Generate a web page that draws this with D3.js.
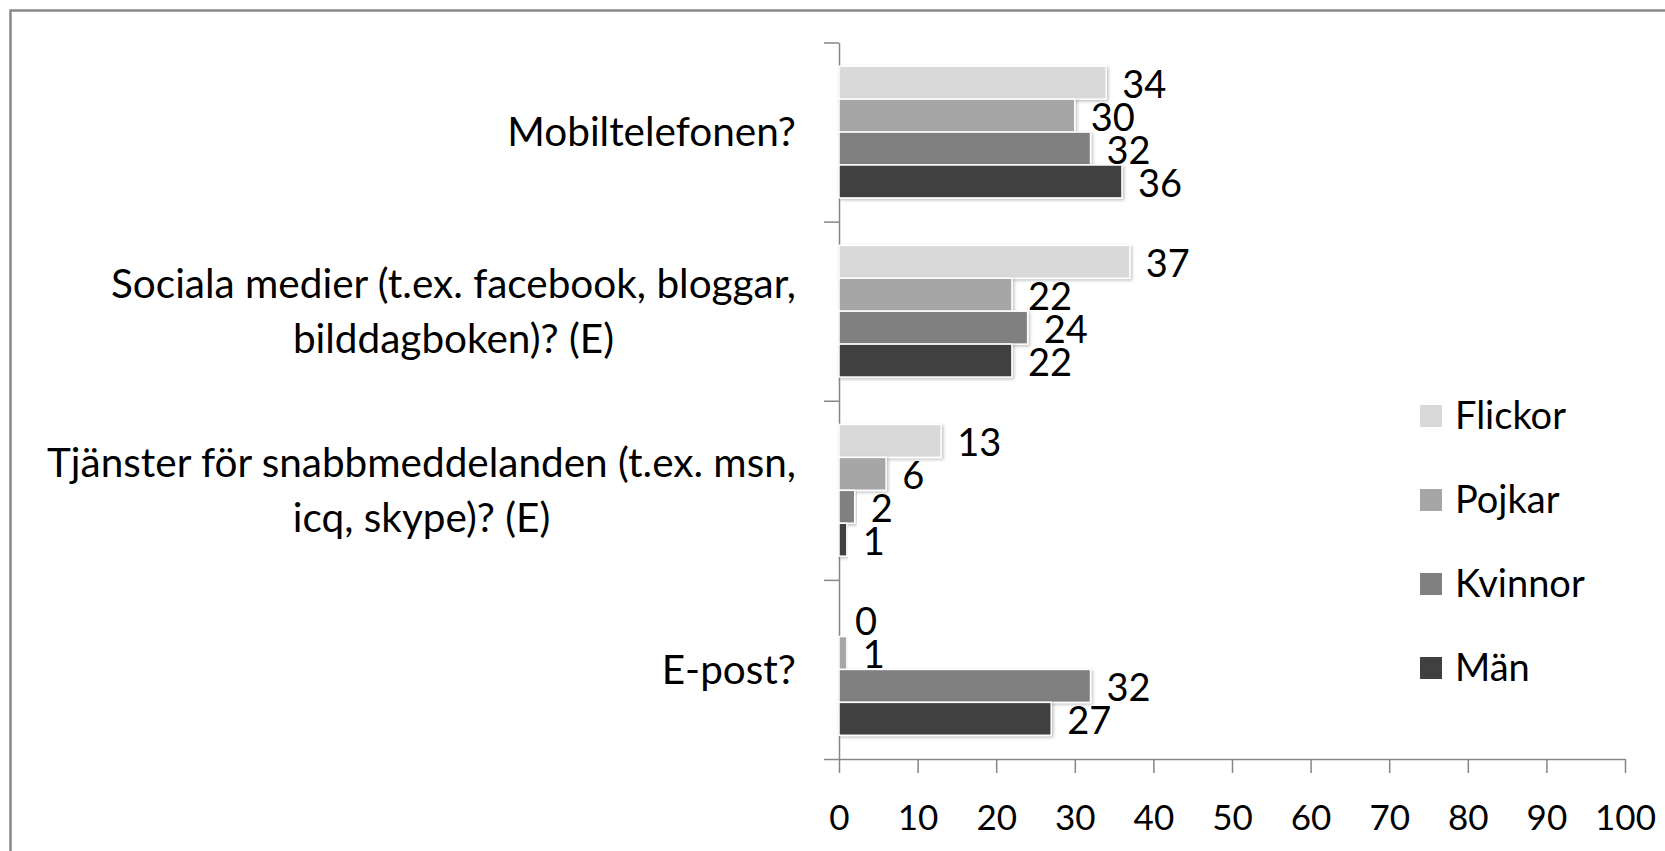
<!DOCTYPE html>
<html lang="sv">
<head>
    <meta charset="UTF-8">
    <title>Kommunikation</title>
    <script src="https://d3js.org/d3.v7.min.js"></script>
    <style>
        body {
            margin: 0;
            background: #fff;
            overflow: hidden;
        }
        text {
            font-family: Lato, "Open Sans", sans-serif;
            fill: #000;
        }
        .axis path, .axis line {
            stroke: #868686;
            stroke-width: 1.5;
        }
    </style>
</head>
<body>
    <svg id="chart" width="1665" height="851"></svg>
    <script>
        // Data
        const categories = [
            ["Mobiltelefonen?"],
            ["Sociala medier (t.ex. facebook, bloggar,", "bilddagboken)? (E)"],
            ["Tjänster för snabbmeddelanden (t.ex. msn,", "icq, skype)? (E)"],
            ["E-post?"]
        ];
        const seriesNames = ["Flickor", "Pojkar", "Kvinnor", "Män"];
        const flickor = [34, 37, 13, 0];
        const pojkar  = [30, 22, 6, 1];
        const kvinnor = [32, 24, 2, 32];
        const man     = [36, 22, 1, 27];
        const xTicks = [0, 10, 20, 30, 40, 50, 60, 70, 80, 90, 100];

        const seriesValues = [flickor, pojkar, kvinnor, man];
        const colors = ["#d9d9d9", "#a6a6a6", "#808080", "#404040"];

        const svg = d3.select("#chart");

        // outer frame
        svg.append("rect")
            .attr("x", 10.5).attr("y", 10.5)
            .attr("width", 1700).attr("height", 900)
            .attr("fill", "none")
            .attr("stroke", "#898989")
            .attr("stroke-width", 2.5);

        const defs = svg.append("defs");
        const f = defs.append("filter").attr("id", "shadow")
            .attr("x", "-5%").attr("y", "-20%").attr("width", "115%").attr("height", "160%");
        f.append("feDropShadow")
            .attr("dx", 1.5).attr("dy", 1.5).attr("stdDeviation", 1.5)
            .attr("flood-color", "#000").attr("flood-opacity", 0.25);

        const plotL = 839, plotR = 1625, plotT = 42.5, plotB = 759;

        const x = d3.scaleLinear().domain([0, 100]).range([plotL, plotR]);
        const catIdx = d3.range(categories.length);
        const y0 = d3.scaleBand().domain(catIdx).range([plotT, plotB]).padding(0);
        const y1 = d3.scaleBand().domain(seriesNames).range([0, y0.bandwidth()])
            .paddingInner(0).paddingOuter(0.72);

        // y axis with ticks at category boundaries
        const yLin = d3.scaleLinear().domain([0, categories.length]).range([plotT, plotB]);
        svg.append("g")
            .attr("class", "axis")
            .attr("transform", `translate(${plotL},0)`)
            .call(d3.axisLeft(yLin).tickValues(d3.range(categories.length + 1))
                .tickFormat("").tickSize(15).tickSizeOuter(0));

        // x axis
        const xAxis = svg.append("g")
            .attr("class", "axis")
            .attr("transform", `translate(0,${plotB})`)
            .call(d3.axisBottom(x).tickValues(xTicks).tickSize(14).tickSizeOuter(0).tickPadding(32));
        xAxis.selectAll("text")
            .style("font-size", "35px")
            .style("font-family", "Lato, sans-serif")
            .attr("fill", "#000");

        // category labels: block right-aligned, lines centred on each other
        const labelRight = 796;
        categories.forEach((lines, i) => {
            const cy = y0(i) + y0.bandwidth() / 2;
            const lh = 55;
            const t = svg.append("text")
                .attr("text-anchor", "middle")
                .style("font-size", "40.5px");
            const spans = lines.map((line, j) => t.append("tspan")
                .attr("y", cy + (j - (lines.length - 1) / 2) * lh)
                .attr("dy", "0.35em")
                .text(line));
            const w = d3.max(spans, sp => sp.node().getComputedTextLength());
            spans.forEach(sp => sp.attr("x", labelRight - w / 2));
        });

        // bars
        seriesNames.forEach((name, s) => {
            const g = svg.append("g");
            g.selectAll("rect")
                .data(seriesValues[s])
                .join("rect")
                .attr("x", x(0))
                .attr("y", (d, i) => y0(i) + y1(name))
                .attr("width", d => x(d) - x(0))
                .attr("height", y1.bandwidth())
                .attr("fill", colors[s])
                .attr("stroke", "#fff")
                .attr("stroke-width", 1.5)
                .attr("filter", "url(#shadow)");

            g.selectAll("text")
                .data(seriesValues[s])
                .join("text")
                .attr("x", d => x(d) + 16)
                .attr("y", (d, i) => y0(i) + y1(name) + y1.bandwidth() / 2 + 2)
                .attr("dy", "0.35em")
                .style("font-size", "38px")
                .text(d => d);
        });

        // legend
        const legend = svg.append("g").attr("transform", "translate(1420,416)");
        seriesNames.forEach((name, s) => {
            const row = legend.append("g").attr("transform", `translate(0,${s * 84})`);
            row.append("rect")
                .attr("x", 0).attr("y", -11)
                .attr("width", 22).attr("height", 22)
                .attr("fill", colors[s]);
            row.append("text")
                .attr("x", 35).attr("y", 0)
                .attr("dy", "0.35em")
                .style("font-size", "38px")
                .text(name);
        });
    </script>
</body>
</html>
